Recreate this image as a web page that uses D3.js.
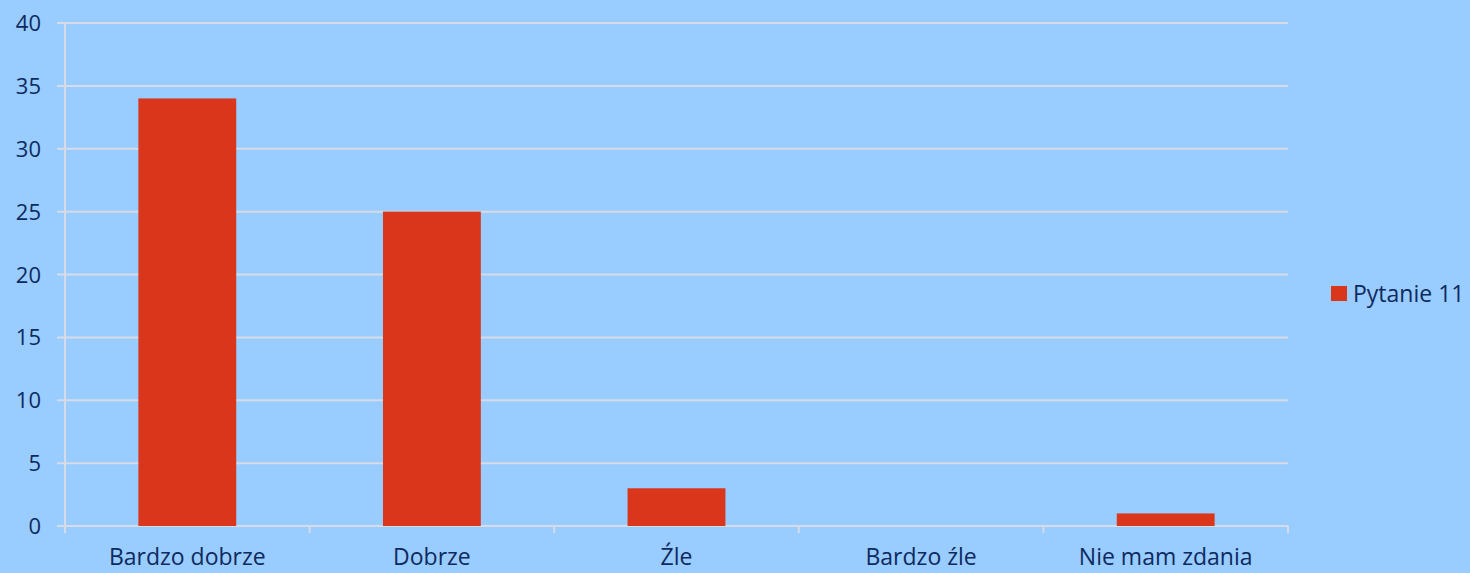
<!DOCTYPE html>
<html lang="pl">
<head>
    <meta charset="UTF-8">
    <title>Pytanie 11</title>
    <script src="https://d3js.org/d3.v7.min.js"></script>
    <style>
        body { margin: 0; background: #99ccff; }
        svg { display: block; }
        text { font-family: "Open Sans", sans-serif; fill: #0f2a5e; }
    </style>
</head>
<body>
<svg width="1470" height="573"></svg>
<script>
    // data
    const categories = ["Bardzo dobrze", "Dobrze", "Źle", "Bardzo źle", "Nie mam zdania"];
    const values = [34, 25, 3, 0, 1];
    const seriesName = "Pytanie 11";
    const yTicks = [0, 5, 10, 15, 20, 25, 30, 35, 40];

    const svg = d3.select("svg");
    const plotL = 65, plotR = 1288, plotT = 23, plotB = 526;

    const x = d3.scaleBand().domain(categories).range([plotL, plotR]).paddingInner(0).paddingOuter(0);
    const y = d3.scaleLinear().domain([0, 40]).range([plotB, plotT]);
    const gridColor = "#d6dbe6";

    // gridlines
    svg.append("g").selectAll("line")
        .data(yTicks)
        .join("line")
        .attr("x1", plotL - 8).attr("x2", plotR)
        .attr("y1", d => y(d)).attr("y2", d => y(d))
        .attr("stroke", gridColor).attr("stroke-width", 2);

    // y axis line
    svg.append("line")
        .attr("x1", plotL).attr("x2", plotL)
        .attr("y1", plotT).attr("y2", plotB + 7)
        .attr("stroke", gridColor).attr("stroke-width", 2);

    // category tick marks
    const bounds = categories.map(c => x(c)).concat([plotR]);
    svg.append("g").selectAll("line")
        .data(bounds.slice(1))
        .join("line")
        .attr("x1", d => d).attr("x2", d => d)
        .attr("y1", plotB).attr("y2", plotB + 7)
        .attr("stroke", gridColor).attr("stroke-width", 2);

    // y labels
    svg.append("g").selectAll("text")
        .data(yTicks)
        .join("text")
        .attr("x", 41).attr("y", d => y(d) + 8)
        .attr("text-anchor", "end")
        .attr("font-size", 22)
        .text(d => d);

    // bars
    const bw = x.bandwidth() * 0.4;
    svg.append("g").selectAll("rect")
        .data(values)
        .join("rect")
        .attr("x", (d, i) => x(categories[i]) + (x.bandwidth() - bw) / 2)
        .attr("y", d => y(d))
        .attr("width", bw)
        .attr("height", d => y(0) - y(d))
        .attr("fill", "#d9361c");

    // x labels
    svg.append("g").selectAll("text")
        .data(categories)
        .join("text")
        .attr("x", d => x(d) + x.bandwidth() / 2)
        .attr("y", 565)
        .attr("text-anchor", "middle")
        .attr("font-size", 23)
        .text(d => d);

    // legend
    svg.append("rect")
        .attr("x", 1331).attr("y", 286).attr("width", 16).attr("height", 15)
        .attr("fill", "#d9361c");
    svg.append("text")
        .attr("x", 1353).attr("y", 302)
        .attr("font-size", 23)
        .text(seriesName);
</script>
</body>
</html>
